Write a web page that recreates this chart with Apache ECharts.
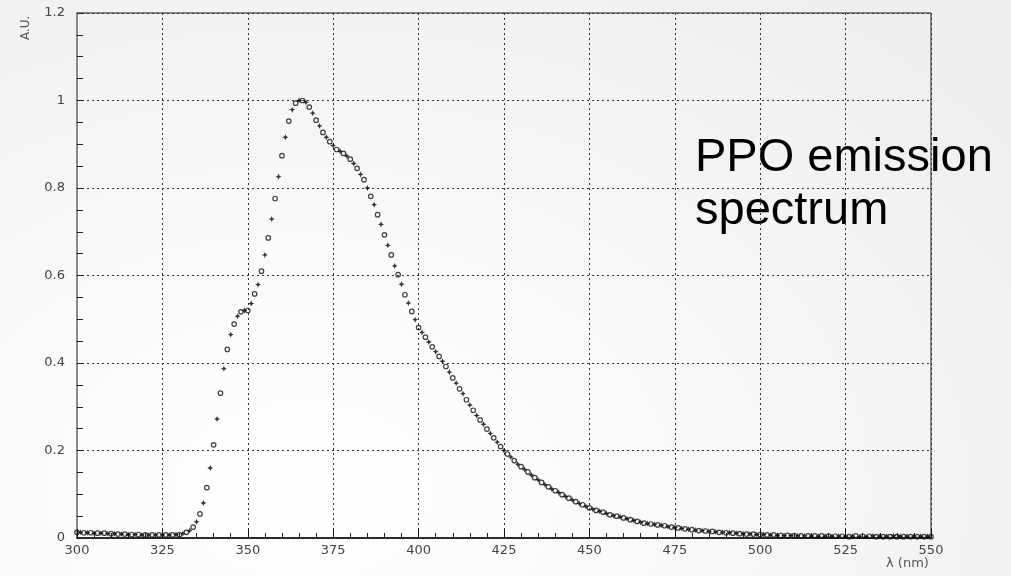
<!DOCTYPE html>
<html>
<head>
<meta charset="utf-8">
<script src="https://cdn.jsdelivr.net/npm/echarts@6/dist/echarts.min.js"></script>
<style>
html,body{margin:0;padding:0;width:1011px;height:576px;overflow:hidden;
background: radial-gradient(ellipse 90% 110% at 30% 85%, #ffffff 0%, #fafafa 35%, #eeeeee 100%);}
#c{width:1011px;height:576px;}
</style>
</head>
<body>
<div id="c"></div>
<script>
// wavelength start/step (nm) and measured intensity (A.U.), one value per nm from 300 to 550
const waveStart = 300;
const waveStep = 1;
const intensity = [
0.013,0.013,0.012,0.012,0.012,0.011,0.011,0.011,0.011,0.010,
0.010,0.010,0.009,0.009,0.009,0.008,0.008,0.008,0.008,0.007,
0.007,0.007,0.007,0.007,0.007,0.007,0.007,0.007,0.007,0.008,
0.008,0.010,0.013,0.017,0.025,0.037,0.055,0.080,0.115,0.160,
0.213,0.272,0.331,0.387,0.431,0.465,0.489,0.507,0.517,0.520,
0.520,0.536,0.558,0.579,0.610,0.647,0.686,0.729,0.776,0.826,
0.874,0.916,0.953,0.979,0.994,1.000,1.000,0.996,0.985,0.971,
0.955,0.942,0.927,0.916,0.906,0.897,0.888,0.884,0.879,0.873,
0.866,0.856,0.845,0.831,0.819,0.800,0.781,0.762,0.739,0.717,
0.693,0.669,0.647,0.622,0.602,0.580,0.556,0.537,0.518,0.499,
0.481,0.470,0.459,0.448,0.437,0.426,0.415,0.404,0.392,0.379,
0.366,0.354,0.341,0.330,0.316,0.304,0.292,0.280,0.270,0.260,
0.249,0.239,0.229,0.219,0.209,0.200,0.192,0.185,0.177,0.169,
0.163,0.157,0.151,0.144,0.138,0.133,0.127,0.122,0.117,0.112,
0.108,0.104,0.099,0.095,0.091,0.087,0.083,0.079,0.076,0.072,
0.069,0.066,0.063,0.061,0.059,0.056,0.053,0.051,0.050,0.048,
0.046,0.044,0.042,0.040,0.038,0.036,0.034,0.033,0.032,0.031,
0.030,0.029,0.028,0.026,0.025,0.024,0.023,0.022,0.021,0.020,
0.019,0.018,0.017,0.017,0.016,0.015,0.015,0.014,0.013,0.013,
0.012,0.012,0.011,0.011,0.010,0.010,0.009,0.009,0.009,0.008,
0.008,0.008,0.007,0.007,0.007,0.006,0.006,0.006,0.006,0.006,
0.0055,0.005,0.005,0.005,0.005,0.0045,0.005,0.004,0.005,0.004,
0.0045,0.004,0.004,0.0045,0.004,0.004,0.003,0.004,0.005,0.003,
0.004,0.003,0.004,0.005,0.003,0.004,0.003,0.004,0.003,0.005,
0.003,0.004,0.003,0.004,0.003,0.004,0.003,0.004,0.003,0.004,
0.003
];
const xTicks = [300,325,350,375,400,425,450,475,500,525,550];
const yTicks = [0,0.2,0.4,0.6,0.8,1,1.2];
const titleLines = ['PPO emission','spectrum'];
const xLabel = 'λ (nm)';
const yLabel = 'A.U.';

const ptsA = [], ptsB = [];
intensity.forEach((v,i)=>{
  const p = [waveStart + i*waveStep, v];
  (i % 2 === 0 ? ptsA : ptsB).push(p);
});

const chart = echarts.init(document.getElementById('c'), null, {renderer:'canvas'});
const labelFont = {color:'#444', fontSize:13, fontFamily:'DejaVu Sans'};
chart.setOption({
  backgroundColor:'transparent',
  animation:false,
  grid:{left:77,right:80,top:13,bottom:38,show:true,borderColor:'#1a1a1a',borderWidth:1,backgroundColor:'transparent'},
  xAxis:{
    type:'value', min:xTicks[0], max:xTicks[xTicks.length-1], interval:25,
    axisLine:{show:true,onZero:false,lineStyle:{color:'#111',width:1.5}},
    axisTick:{show:true,inside:true,length:9,lineStyle:{color:'#111'}},
    minorTick:{show:true,splitNumber:5,length:5,lineStyle:{color:'#222'}},
    splitLine:{show:true,lineStyle:{color:'#333',type:[2,3],width:1}},
    axisLabel:Object.assign({margin:6},labelFont)
  },
  yAxis:{
    type:'value', min:yTicks[0], max:yTicks[yTicks.length-1], interval:0.2,
    axisLine:{show:true,lineStyle:{color:'#888',width:2}},
    axisTick:{show:true,inside:true,length:7,lineStyle:{color:'#222'}},
    minorTick:{show:true,splitNumber:4,length:6,lineStyle:{color:'#222'}},
    splitLine:{show:true,lineStyle:{color:'#333',type:[2,3],width:1}},
    axisLabel:Object.assign({margin:12},labelFont)
  },
  series:[
    {type:'scatter',data:ptsA,symbol:'circle',symbolSize:4.5,
     itemStyle:{color:'rgba(255,255,255,0)',borderColor:'#111',borderWidth:1.2},z:3},
    {type:'scatter',data:ptsB,symbol:'path://M0,-1L0.3,-0.3L1,0L0.3,0.3L0,1L-0.3,0.3L-1,0L-0.3,-0.3Z',symbolSize:6,
     itemStyle:{color:'#000'},z:3}
  ],
  graphic:[
    {type:'text',left:695,top:132,style:{text:titleLines.join('\n'),fill:'#000',font:'47px "Liberation Sans", Arial, sans-serif',lineHeight:53}},
    {type:'text',left:886,top:557,style:{text:xLabel,fill:'#555',font:'13px "DejaVu Sans"'}},
    {type:'text',left:886,top:-11,style:{text:xLabel,fill:'#777',font:'13px "DejaVu Sans"'}},
    {type:'text',x:20,y:40,rotation:Math.PI/2,style:{text:yLabel,fill:'#555',font:'12px "DejaVu Sans"'}}
  ]
});
</script>
</body>
</html>
